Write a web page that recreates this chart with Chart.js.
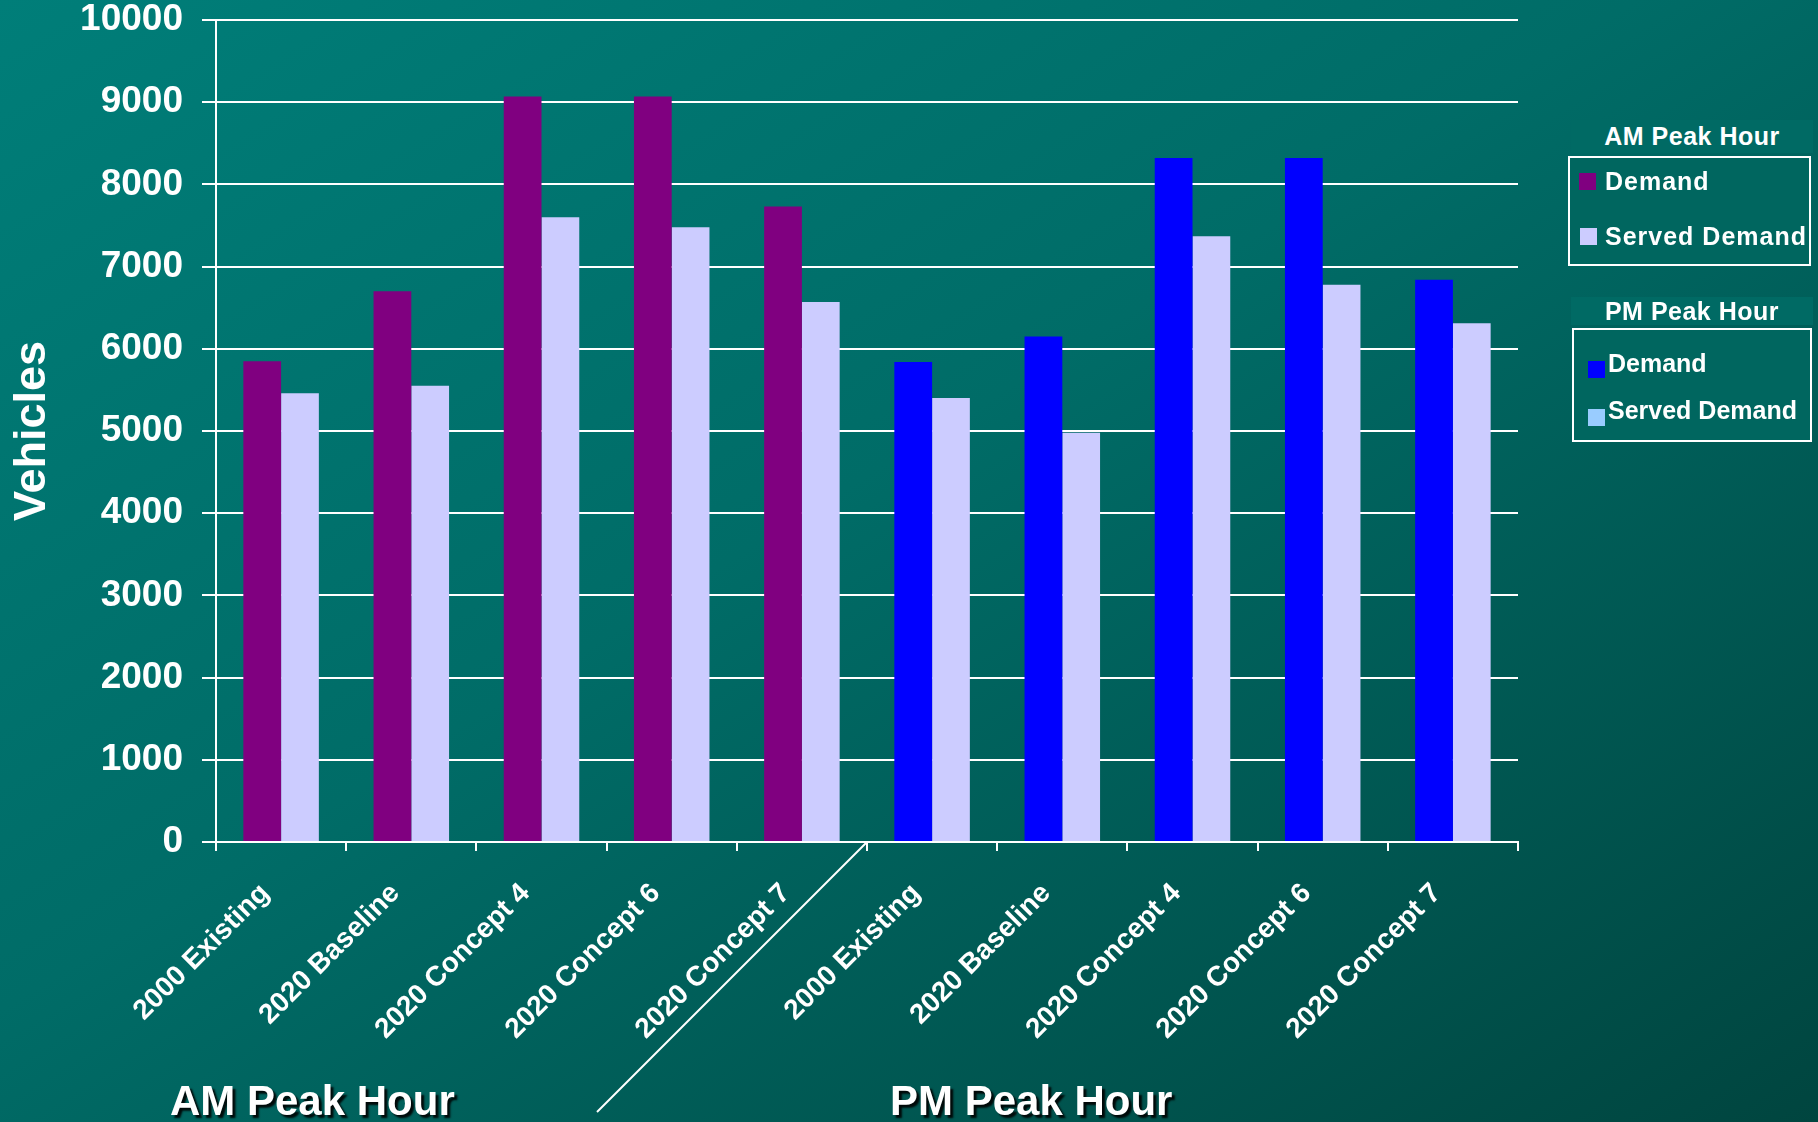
<!DOCTYPE html>
<html>
<head>
<meta charset="utf-8">
<script src="https://cdn.jsdelivr.net/npm/chart.js@4"></script>
<style>
  html, body { margin: 0; padding: 0; }
  body {
    width: 1818px; height: 1122px; overflow: hidden; position: relative;
    background: linear-gradient(to bottom right, #007e79 0%, #006c67 45%, #00453f 100%);
    font-family: "Liberation Sans", Arial, sans-serif;
  }
  #wrap { position: absolute; left: 0; top: 0; width: 1818px; height: 1122px; }
  .lg-title {
    position: absolute; background: #006a64; color: #fff; font-weight: bold;
    font-size: 25px; text-align: center; line-height: 33px; letter-spacing: 0.5px;
  }
  .lg-box { position: absolute; border: 2px solid #fff; background: #00665f; box-sizing: border-box; }
  .lg-sw { position: absolute; width: 17px; height: 17px; }
  .lg-tx { position: absolute; color: #fff; font-weight: bold; font-size: 25px; line-height: 25px; white-space: nowrap; }
</style>
</head>
<body>
<div id="wrap"><canvas id="myChart"></canvas></div>

<div class="lg-title" style="left:1571px;top:120px;width:242px;height:33px;">AM Peak Hour</div>
<div class="lg-box" style="left:1568px;top:156px;width:243px;height:110px;"></div>
<div class="lg-sw" style="left:1579px;top:173px;background:#800080;"></div>
<div class="lg-tx" style="left:1605px;top:169px;letter-spacing:1px;">Demand</div>
<div class="lg-sw" style="left:1580px;top:228px;background:#ccccff;"></div>
<div class="lg-tx" style="left:1605px;top:224px;letter-spacing:1px;">Served Demand</div>

<div class="lg-title" style="left:1571px;top:297px;width:242px;height:28px;line-height:28px;">PM Peak Hour</div>
<div class="lg-box" style="left:1572px;top:328px;width:240px;height:114px;"></div>
<div class="lg-sw" style="left:1588px;top:361px;background:#0000ff;"></div>
<div class="lg-tx" style="left:1608px;top:351px;">Demand</div>
<div class="lg-sw" style="left:1588px;top:409px;background:#99ccff;"></div>
<div class="lg-tx" style="left:1608px;top:398px;">Served Demand</div>

<script>
const scenarios = ["2000 Existing", "2020 Baseline", "2020 Concept 4", "2020 Concept 6", "2020 Concept 7"];
const labels = scenarios.concat(scenarios);
const amDemand = [5850, 6700, 9070, 9070, 7730];
const amServed = [5460, 5550, 7600, 7480, 6570];
const pmDemand = [5840, 6150, 8320, 8320, 6840];
const pmServed = [5400, 4980, 7370, 6780, 6310];
const yTicks = [0, 1000, 2000, 3000, 4000, 5000, 6000, 7000, 8000, 9000, 10000];

const empty = [null, null, null, null, null];
const FONT = "'Liberation Sans', Arial, sans-serif";

const data = {
  labels: labels,
  datasets: [
    { label: "AM Demand", data: amDemand.concat(empty), backgroundColor: "#800080" },
    { label: "AM Served Demand", data: amServed.concat(empty), backgroundColor: "#ccccff" },
    { label: "PM Demand", data: empty.concat(pmDemand), backgroundColor: "#0000ff" },
    { label: "PM Served Demand", data: empty.concat(pmServed), backgroundColor: "#ccccff" },
  ],
};

// divider line between AM and PM groups plus the group captions
const extras = {
  id: "extras",
  afterDraw(chart) {
    const ctx = chart.ctx;
    const x = chart.scales.x;
    const xs = (x.getPixelForValue(4) + x.getPixelForValue(5)) / 2;
    const y0 = chart.chartArea.bottom;
    ctx.save();
    ctx.strokeStyle = "#ffffff";
    ctx.lineWidth = 2;
    ctx.beginPath();
    ctx.moveTo(xs, y0);
    ctx.lineTo(xs - 270, y0 + 270);
    ctx.stroke();

    ctx.font = "bold 42px " + FONT;
    ctx.fillStyle = "#ffffff";
    ctx.shadowColor = "rgba(0,0,0,0.9)";
    ctx.shadowOffsetX = 3;
    ctx.shadowOffsetY = 3;
    ctx.shadowBlur = 2;
    ctx.textBaseline = "alphabetic";
    ctx.fillText("AM Peak Hour", 170, 1115);
    ctx.fillText("PM Peak Hour", 890, 1115);
    ctx.restore();
  },
};

const config = {
  type: "bar",
  data,
  plugins: [extras],
  options: {
    responsive: true,
    maintainAspectRatio: false,
    animation: false,
    layout: { padding: { left: 0, right: 300, top: 20, bottom: 0 } },
    datasets: {
      bar: { skipNull: true, categoryPercentage: 0.58, barPercentage: 1.0 },
    },
    plugins: {
      legend: { display: false },
      tooltip: { enabled: false },
    },
    scales: {
      x: {
        afterFit(scale) { scale.height = 280; },
        grid: { drawOnChartArea: false, color: "#ffffff", lineWidth: 2, tickLength: 9, tickColor: "#ffffff" },
        border: { color: "#ffffff", width: 2 },
        ticks: {
          color: "#ffffff",
          font: { family: FONT, size: 28, weight: "bold" },
          minRotation: 45,
          maxRotation: 45,
          autoSkip: false,
          padding: 26,
          labelOffset: -16,
        },
      },
      y: {
        min: 0,
        max: 10000,
        afterFit(scale) {
          scale.width = 216;
          scale.paddingTop = 0;
          scale.paddingBottom = 0;
        },
        afterBuildTicks(scale) { scale.ticks = yTicks.map(v => ({ value: v })); },
        grid: { color: "#ffffff", lineWidth: 2, tickLength: 14 },
        border: { color: "#ffffff", width: 2 },
        ticks: {
          color: "#ffffff",
          font: { family: FONT, size: 37, weight: "bold", lineHeight: 1 },
          padding: 19,
          callback: (v) => String(v),
        },
        title: {
          display: true,
          text: "Vehicles",
          color: "#ffffff",
          font: { family: FONT, size: 45, weight: "bold", lineHeight: 1.2 },
          padding: { top: 6, bottom: 0 },
        },
      },
    },
  },
};

var myChart = new Chart(document.getElementById("myChart"), config);
</script>
</body>
</html>
